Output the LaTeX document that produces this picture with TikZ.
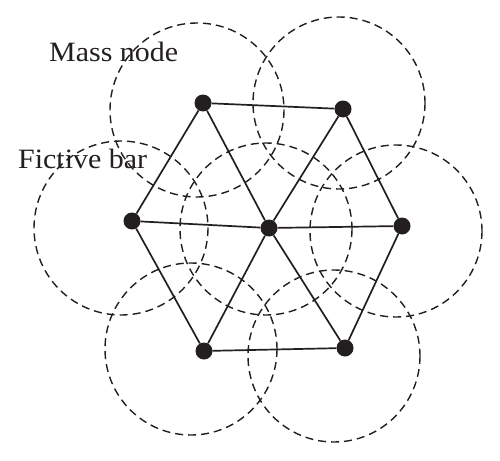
\documentclass[tikz,border=0pt]{standalone}
\usepackage{fontspec}
\usepackage{tikz}
\newfontfamily\labelfont[FakeStretch=1.07]{Liberation Serif}

\definecolor{ink}{HTML}{231F20}

\begin{document}
\begin{tikzpicture}[x = 1pt, y = -1pt,
  mass/.style = {circle, fill = ink, inner sep = 0pt, minimum size = 17pt},
  bar/.style = {draw = ink, line width = 1.7pt},
  zone/.style = {draw = ink, line width = 1.4pt, dash pattern = on 8pt off 5pt},
  lbl/.style = {anchor = base west, inner sep = 0pt, text = ink, font = \labelfont\fontsize{28}{30}\selectfont}]
\useasboundingbox (0,0) rectangle (500,460);
% influence circles
\draw [zone] (197,110) circle (87);
\draw [zone] (339,103) circle (86);
\draw [zone] (121,228) circle (87);
\draw [zone] (266,229) circle (86);
\draw [zone] (396,231) circle (86);
\draw [zone] (191,349) circle (86);
\draw [zone] (334,356) circle (86);
% mass nodes
\node [mass] (tl) at (203,103) {};
\node [mass] (tr) at (343,109) {};
\node [mass] (l) at (132,221) {};
\node [mass] (c) at (269,228) {};
\node [mass] (r) at (402,226) {};
\node [mass] (bl) at (204,351) {};
\node [mass] (br) at (345,348) {};
% fictive bars
\draw [bar] (tl) -- (tr);
\draw [bar] (tl) -- (l);
\draw [bar] (tl) -- (c);
\draw [bar] (tr) -- (c);
\draw [bar] (tr) -- (r);
\draw [bar] (l) -- (c);
\draw [bar] (c) -- (r);
\draw [bar] (l) -- (bl);
\draw [bar] (c) -- (bl);
\draw [bar] (c) -- (br);
\draw [bar] (r) -- (br);
\draw [bar] (bl) -- (br);
% labels
\node [lbl] (massname) at (49,62) {Mass node};
\node [lbl] (barname) at (18,168) {Fictive bar};
\end{tikzpicture}
\end{document}
